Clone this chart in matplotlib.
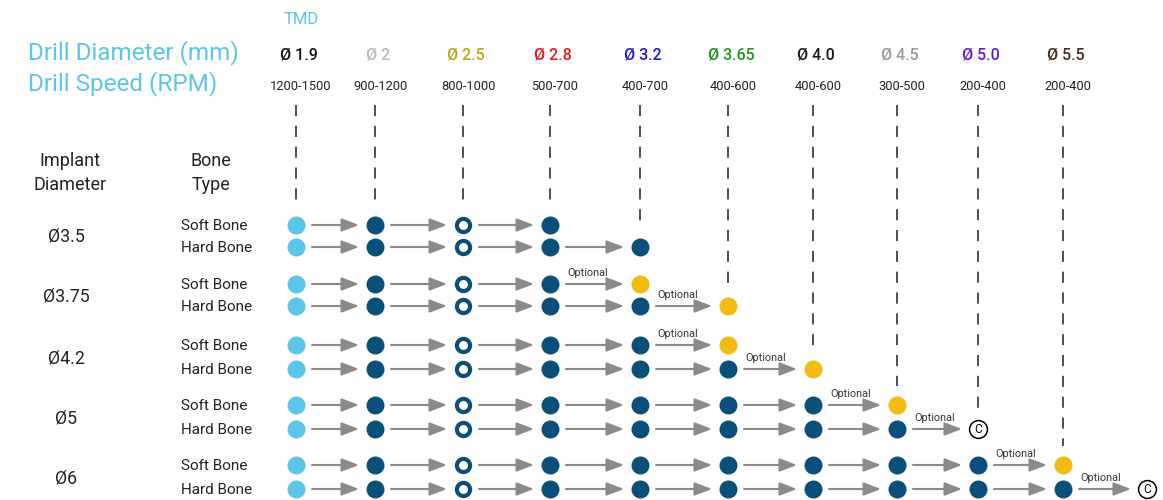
import matplotlib.pyplot as plt

plt.rcParams['font.family'] = ['Roboto', 'DejaVu Sans']
plt.rcParams['lines.scale_dashes'] = False

# ---- data ----
drill_labels = ["Ø 1.9", "Ø 2", "Ø 2.5", "Ø 2.8", "Ø 3.2", "Ø 3.65",
                "Ø 4.0", "Ø 4.5", "Ø 5.0", "Ø 5.5"]
drill_colors = ["#111111", "#b8b8b8", "#b5a819", "#e01c1c", "#1c1cc8",
                "#1e961e", "#1a1a1a", "#9a9a9a", "#6119d8", "#4a2a26"]
drill_speeds = ["1200-1500", "900-1200", "800-1000", "500-700", "400-700",
                "400-600", "400-600", "300-500", "200-400", "200-400"]
implants = ["Ø3.5", "Ø3.75", "Ø4.2", "Ø5", "Ø6"]
bone_types = ["Soft Bone", "Hard Bone"]
# index of last regular drill for each implant (soft, hard)
soft_last = [3, 3, 4, 6, 8]
hard_last = [4, 4, 5, 7, 9]
# optional step: (column index, kind) or None; kind 'y' = yellow drill, 'c' = C
soft_opt = [None, (4, 'y'), (5, 'y'), (7, 'y'), (9, 'y')]
hard_opt = [None, (5, 'y'), (6, 'y'), (8, 'c'), (10, 'c')]

# ---- layout ----
col_x = [296, 375, 463, 550, 640, 728, 813, 897, 978, 1063, 1147]
row_y = [(225, 247), (284, 306), (345, 369), (405, 429), (465, 489)]

LIGHT = "#5bc6ea"
NAVY = "#0a4f7a"
YELLOW = "#f4bc13"
GRAY = "#8a8a8a"
TXT = "#222222"

fig = plt.figure(figsize=(11.63, 5.0), dpi=100)
ax = fig.add_axes([0, 0, 1, 1])
ax.set_xlim(0, 1163)
ax.set_ylim(500, 0)
ax.axis("off")

# header
ax.text(28, 53, "Drill Diameter (mm)", color=LIGHT, fontsize=17.5, va="center")
ax.text(28, 84, "Drill Speed (RPM)", color=LIGHT, fontsize=17.5, va="center")
ax.text(301, 20, "TMD", color=LIGHT, fontsize=12, ha="center", va="center")
for i in range(len(drill_labels)):
    ax.text(col_x[i] + 3, 55, drill_labels[i], color=drill_colors[i],
            fontsize=11.5, fontweight="medium", ha="center", va="center")
    ax.text(col_x[i] + 5, 87, drill_speeds[i], color=TXT,
            fontsize=9.3, ha="center", va="center")

ax.text(70, 173, "Implant\nDiameter", fontsize=13, ha="center", va="center",
        color=TXT, linespacing=1.4)
ax.text(211, 173, "Bone\nType", fontsize=13, ha="center", va="center",
        color=TXT, linespacing=1.4)


def draw_dot(x, y, kind):
    if kind == "light":
        ax.scatter(x, y, s=168, color=LIGHT, zorder=3, linewidths=0)
    elif kind == "ring":
        ax.scatter(x, y, s=90, facecolor="white", edgecolor=NAVY,
                   linewidths=3.0, zorder=3)
    elif kind == "y":
        ax.scatter(x, y, s=168, color=YELLOW, zorder=3, linewidths=0)
    elif kind == "c":
        ax.scatter(x, y, s=165, facecolor="white", edgecolor="black",
                   linewidths=1.1, zorder=3)
        ax.text(x, y + 0.5, "C", fontsize=8.5, ha="center", va="center", zorder=4)
    else:
        ax.scatter(x, y, s=168, color=NAVY, zorder=3, linewidths=0)


def draw_arrow(x0, x1, y, optional=False):
    ax.annotate("", xy=(x1 - 16, y), xytext=(x0 + 16, y),
                arrowprops=dict(arrowstyle="-|>,head_length=1.05,head_width=0.4",
                                color=GRAY, lw=1.5, shrinkA=0, shrinkB=0))
    if optional:
        ax.text(x0 + 17, y - 6, "Optional", fontsize=7.8, color="#333333",
                ha="left", va="bottom")


first_y = {}
for r, name in enumerate(implants):
    ys, yh = row_y[r]
    ax.text(66, (ys + yh) / 2 + 1, name, fontsize=12.8, ha="center", va="center",
            color=TXT)
    for b, (y, last, opt) in enumerate([(ys, soft_last[r], soft_opt[r]),
                                        (yh, hard_last[r], hard_opt[r])]):
        ax.text(181, y + 1, bone_types[b], fontsize=11, ha="left", va="center",
                color=TXT)
        for c in range(last + 1):
            kind = "light" if c == 0 else ("ring" if c == 2 else "navy")
            draw_dot(col_x[c], y, kind)
            first_y.setdefault(c, y)
            if c > 0:
                draw_arrow(col_x[c - 1], col_x[c], y)
        if opt is not None:
            oc, kind = opt
            draw_dot(col_x[oc], y, kind)
            first_y.setdefault(oc, y)
            draw_arrow(col_x[last], col_x[oc], y, optional=True)

# dashed guides from header down to the first mark in each column
for c in range(len(drill_labels)):
    ax.plot([col_x[c], col_x[c]], [105, first_y[c] - 19], color="#2a3040",
            lw=1.2, dashes=(8, 7), zorder=1)

fig.savefig("out.png", dpi=100)
